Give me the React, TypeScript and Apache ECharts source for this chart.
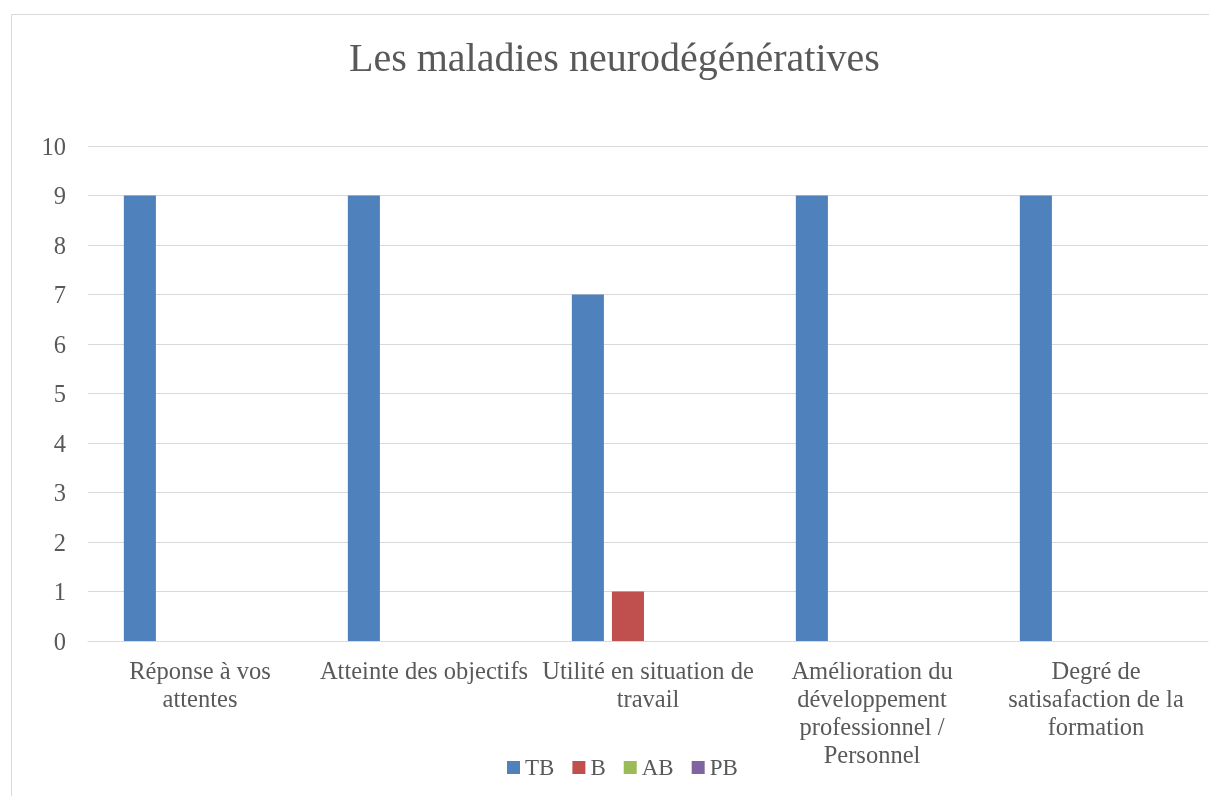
import React, { useEffect, useRef } from "react";
import * as echarts from "echarts";

const titleText = "Les maladies neurodégénératives";
const categories = [
  "Réponse à vos attentes",
  "Atteinte des objectifs",
  "Utilité en situation de travail",
  "Amélioration du développement professionnel / Personnel",
  "Degré de satisafaction de la formation",
];
const categoryLabels = [
  "Réponse à vos\nattentes",
  "Atteinte des objectifs",
  "Utilité en situation de\ntravail",
  "Amélioration du\ndéveloppement\nprofessionnel /\nPersonnel",
  "Degré de\nsatisafaction de la\nformation",
];
const seriesNames = ["TB", "B", "AB", "PB"];
const tbValues = [9, 9, 7, 9, 9];
const bValues = [0, 0, 1, 0, 0];
const abValues = [0, 0, 0, 0, 0];
const pbValues = [0, 0, 0, 0, 0];
const colors = ["#4F81BD", "#C0504D", "#9BBB59", "#8064A2"];
const yTicks = { min: 0, max: 10, interval: 1 };

const FONT = "'Liberation Serif', serif";
const TEXT = "#595959";

export default function App() {
  const ref = useRef<HTMLDivElement>(null);
  useEffect(() => {
    if (!ref.current) return;
    const chart = echarts.init(ref.current, null, { renderer: "svg" });
    const allValues = [tbValues, bValues, abValues, pbValues];
    chart.setOption({
      animation: false,
      color: colors,
      textStyle: { fontFamily: FONT, color: TEXT },
      title: {
        text: titleText,
        left: 349,
        top: 32,
        padding: [5, 0, 5, 0],
        textStyle: { fontFamily: FONT, fontSize: 40, fontWeight: "normal", color: TEXT },
      },
      graphic: [
        {
          type: "rect",
          shape: { x: 11.5, y: 14.5, width: 1220, height: 820 },
          style: { fill: "none", stroke: "#d9d9d9", lineWidth: 1 },
          silent: true,
          z: -10,
        },
      ],
      legend: {
        data: seriesNames,
        left: 502,
        top: 751,
        itemWidth: 13,
        itemHeight: 13,
        itemGap: 18,
        icon: "rect",
        textStyle: { fontFamily: FONT, fontSize: 23, color: TEXT },
      },
      grid: { left: 88, right: 1, top: 146, bottom: 155, containLabel: false },
      xAxis: {
        type: "category",
        data: categories,
        axisTick: { show: false },
        axisLine: { lineStyle: { color: "#d9d9d9", width: 1 } },
        axisLabel: {
          interval: 0,
          margin: 15,
          fontFamily: FONT,
          fontSize: 24.5,
          lineHeight: 28,
          color: TEXT,
          formatter: (_v: string, i: number) => categoryLabels[i],
        },
      },
      yAxis: {
        type: "value",
        min: yTicks.min,
        max: yTicks.max,
        interval: yTicks.interval,
        axisLine: { show: false },
        axisTick: { show: false },
        splitLine: { lineStyle: { color: "#d9d9d9", width: 1 } },
        axisLabel: { margin: 22, fontFamily: FONT, fontSize: 24.5, color: TEXT },
      },
      series: seriesNames.map((name, i) => ({
        name,
        type: "bar",
        data: allValues[i],
        barGap: "25%",
        barCategoryGap: "32%",
      })),
    });
    return () => chart.dispose();
  }, []);
  return (
    <div
      ref={ref}
      style={{ position: "fixed", left: 0, top: 0, width: 1209, height: 796 }}
    />
  );
}
